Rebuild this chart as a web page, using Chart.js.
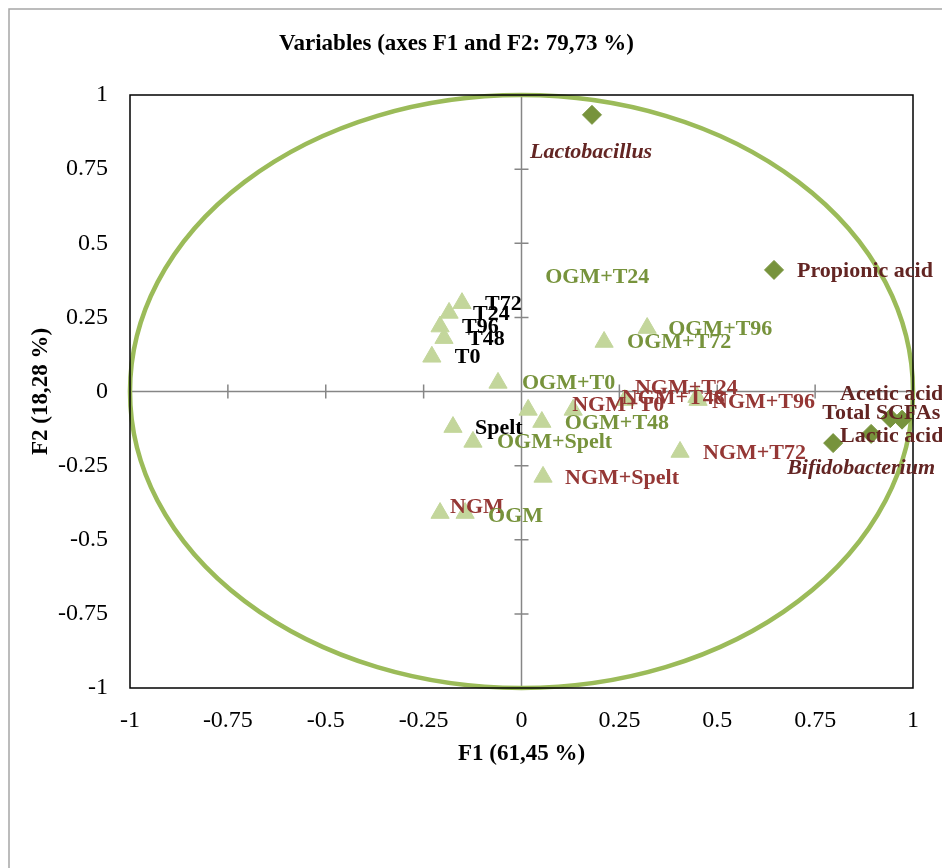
<!DOCTYPE html>
<html>
<head>
<meta charset="utf-8">
<title>Variables (axes F1 and F2)</title>
<script src="https://cdn.jsdelivr.net/npm/chart.js@4.4.1/dist/chart.umd.min.js"></script>
<style>
  html, body { margin: 0; padding: 0; background: #ffffff; }
  #wrap { width: 942px; height: 868px; position: relative; }
</style>
</head>
<body>
<div id="wrap"><canvas id="pcaChart"></canvas></div>
<script>
// active variables (diamonds)
const activeLabels = ["Lactobacillus", "Propionic acid", "Acetic acid", "Total SCFAs", "Lactic acid", "Bifidobacterium"];
const activeF1 = [0.18, 0.645, 0.972, 0.942, 0.893, 0.796];
const activeF2 = [0.933, 0.41, -0.095, -0.09, -0.143, -0.174];

// supplementary observations (triangles)
const supLabels = [
  "T0", "T24", "T48", "T72", "T96", "Spelt", "NGM", "OGM",
  "OGM+T0", "OGM+T24", "OGM+T48", "OGM+T72", "OGM+T96", "OGM+Spelt",
  "NGM+T0", "NGM+T24", "NGM+T48", "NGM+T72", "NGM+T96", "NGM+Spelt",
];
const supF1 = [
  -0.229, -0.185, -0.198, -0.152, -0.208, -0.175, -0.208, -0.144,
  -0.06, 0.017, 0.052, 0.211, 0.321, -0.124,
  0.132, 0.448, 0.264, 0.405, 0.451, 0.055,
];
const supF2 = [
  0.117, 0.265, 0.18, 0.298, 0.219, -0.12, -0.41, -0.41,
  0.029, -0.062, -0.103, 0.167, 0.214, -0.17,
  -0.062, -0.019, -0.029, -0.204, -0.029, -0.288,
];

const axisTicks = [-1, -0.75, -0.5, -0.25, 0, 0.25, 0.5, 0.75, 1];

// where each label sits relative to its marker (px: left edge, vertical centre)
const activeLabelOffsets = [[-62, 37], [23, 1], [-62, -25], [-68, -5], [-31, 2], [-46, 25]];
const supLabelOffsets = [
  [23, 1], [24, 1], [24, 1], [23, 1], [22, 1], [22, 1], [10, -6], [23, 3],
  [24, 0], [17, -133], [23, 1], [23, 0], [21, 1], [24, 0],
  [-1, -5], [-62, -9], [-3, -2], [23, 1], [14, 2], [22, 1],
];
const italicLabels = ["Lactobacillus", "Bifidobacterium"];

const serif = "'Liberation Serif', 'Times New Roman', serif";

const labelColor = (name, active) => {
  if (active) return "#632523";
  if (name.startsWith("NGM")) return "#953735";
  if (name.startsWith("OGM")) return "#77933C";
  return "#000000";
};

const pcaDecor = {
  id: "pcaDecor",
  beforeDraw(chart) {
    const ctx = chart.ctx;
    ctx.save();
    ctx.fillStyle = "#ffffff";
    ctx.fillRect(0, 0, chart.width, chart.height);
    ctx.strokeStyle = "#a6a6a6";
    ctx.lineWidth = 1.5;
    ctx.strokeRect(9, 9, 1000, 1000);
    ctx.restore();
  },
  beforeDatasetsDraw(chart) {
    const ctx = chart.ctx;
    const xs = chart.scales.x;
    const ys = chart.scales.y;
    const x0 = xs.getPixelForValue(0);
    const y0 = ys.getPixelForValue(0);
    const area = chart.chartArea;
    ctx.save();
    // zero axes with their tick marks
    ctx.strokeStyle = "#868686";
    ctx.lineWidth = 1.5;
    ctx.beginPath();
    ctx.moveTo(area.left, y0);
    ctx.lineTo(area.right, y0);
    ctx.moveTo(x0, area.top);
    ctx.lineTo(x0, area.bottom);
    axisTicks.forEach((t) => {
      if (t === 0 || Math.abs(t) === 1) return;
      const px = xs.getPixelForValue(t);
      ctx.moveTo(px, y0 - 7);
      ctx.lineTo(px, y0 + 7);
      const py = ys.getPixelForValue(t);
      ctx.moveTo(x0 - 7, py);
      ctx.lineTo(x0 + 7, py);
    });
    ctx.stroke();
    // correlation circle
    const rx = xs.getPixelForValue(1) - x0;
    const ry = y0 - ys.getPixelForValue(1);
    ctx.strokeStyle = "#9BBB59";
    ctx.lineWidth = 4.5;
    ctx.beginPath();
    ctx.ellipse(x0, y0, rx, ry, 0, 0, Math.PI * 2);
    ctx.stroke();
    ctx.restore();
  },
  afterDatasetsDraw(chart) {
    const ctx = chart.ctx;
    const area = chart.chartArea;
    ctx.save();
    ctx.strokeStyle = "#000000";
    ctx.lineWidth = 1.5;
    ctx.strokeRect(area.left, area.top, area.right - area.left, area.bottom - area.top);

    ctx.textAlign = "left";
    ctx.textBaseline = "middle";
    const drawLabels = (dsIndex, names, offsets, active) => {
      const meta = chart.getDatasetMeta(dsIndex);
      meta.data.forEach((pt, i) => {
        const name = names[i];
        const style = italicLabels.includes(name) ? "italic bold" : "bold";
        ctx.font = `${style} 22px ${serif}`;
        ctx.fillStyle = labelColor(name, active);
        ctx.fillText(name, pt.x + offsets[i][0], pt.y + offsets[i][1]);
      });
    };
    drawLabels(1, supLabels, supLabelOffsets, false);
    drawLabels(0, activeLabels, activeLabelOffsets, true);
    ctx.restore();
  },
};

const tickText = (v) => String(Number(Number(v).toFixed(2)));

document.addEventListener("DOMContentLoaded", function () {
  const ctx = document.getElementById("pcaChart").getContext("2d");
  const pcaChart = new Chart(ctx, {
    type: "scatter",
    data: {
      datasets: [
        {
          label: "Active variables",
          data: activeLabels.map((name, i) => ({ x: activeF1[i], y: activeF2[i] })),
          pointStyle: "rectRot",
          pointRadius: 9.5,
          backgroundColor: "#77933C",
          borderColor: "#77933C",
          borderWidth: 1,
        },
        {
          label: "Supplementary observations",
          data: supLabels.map((name, i) => ({ x: supF1[i], y: supF2[i] })),
          pointStyle: "triangle",
          pointRadius: 10.5,
          backgroundColor: "#C3D69B",
          borderColor: "#C3D69B",
          borderWidth: 1,
        },
      ],
    },
    options: {
      responsive: true,
      maintainAspectRatio: false,
      animation: false,
      layout: {
        padding: { left: 0, right: 29, top: 0, bottom: 80 },
      },
      scales: {
        x: {
          type: "linear",
          min: -1,
          max: 1,
          afterBuildTicks: (scale) => {
            scale.ticks = axisTicks.map((v) => ({ value: v }));
          },
          afterFit: (scale) => {
            scale.height = 100;
          },
          grid: { display: false, drawTicks: false },
          border: { display: false },
          ticks: {
            padding: 18,
            color: "#000000",
            font: { family: serif, size: 24 },
            maxRotation: 0,
            callback: tickText,
          },
          title: {
            display: true,
            text: "F1 (61,45 %)",
            color: "#000000",
            font: { family: serif, size: 23, weight: "bold" },
            padding: { top: 0, bottom: 20 },
          },
        },
        y: {
          type: "linear",
          min: -1,
          max: 1,
          afterBuildTicks: (scale) => {
            scale.ticks = axisTicks.map((v) => ({ value: v }));
          },
          afterFit: (scale) => {
            scale.width = 130;
          },
          grid: { display: false, drawTicks: false },
          border: { display: false },
          ticks: {
            padding: 22,
            color: "#000000",
            font: { family: serif, size: 24 },
            callback: tickText,
          },
          title: {
            display: true,
            text: "F2 (18,28 %)",
            color: "#000000",
            font: { family: serif, size: 23, weight: "bold" },
            padding: { top: 27, bottom: 0 },
          },
        },
      },
      plugins: {
        legend: { display: false },
        tooltip: { enabled: false },
        title: {
          display: true,
          text: "Variables (axes F1 and F2: 79,73 %)",
          color: "#000000",
          font: { family: serif, size: 23, weight: "bold" },
          padding: { top: 30, bottom: 37.4 },
        },
      },
    },
    plugins: [pcaDecor],
  });
});
</script>
</body>
</html>
